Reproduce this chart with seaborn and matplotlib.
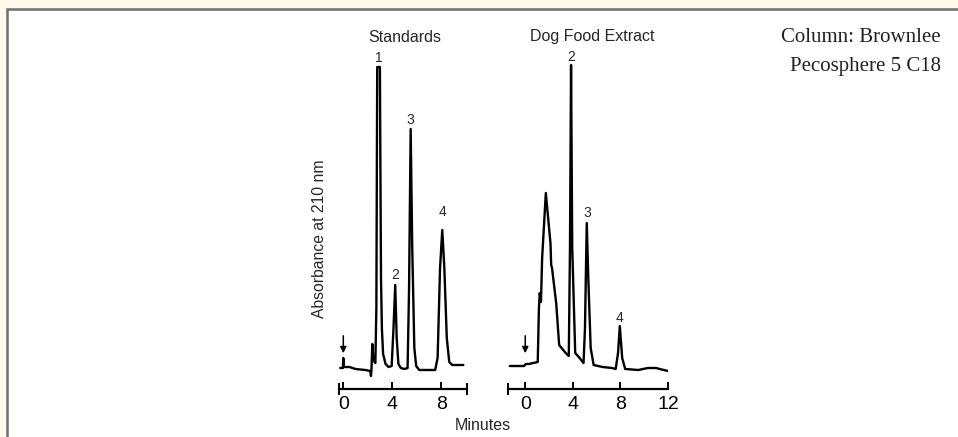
"""Chromatograms: standards vs dog food extract."""

import numpy as np
import pandas as pd
import matplotlib
matplotlib.use("Agg")
import matplotlib.pyplot as plt
from matplotlib.patches import Rectangle
import seaborn as sns

# --- data (minutes, absorbance in arbitrary units) ---
std_time = [-0.25, -0.03, 0.0, 0.04, 0.5, 1.0, 1.8, 2.2, 2.26, 2.3, 2.37, 2.45,
            2.55, 2.62, 2.7, 2.74, 2.77, 2.99, 3.03, 3.08, 3.15, 3.25, 3.45, 3.7,
            3.95, 4.1, 4.24, 4.36, 4.5, 4.7, 5.0, 5.25, 5.37, 5.5, 5.63, 5.8,
            5.95, 6.2, 7.5, 7.7, 7.9, 8.08, 8.25, 8.45, 8.65, 8.9, 9.8]
std_abs = [0, 0, 10, 1, 1, -1, -2, -3, -8, -2, 24, 10,
           6, 5, 60, 200, 301, 301, 200, 90, 40, 14, 4, 1,
           2, 40, 83, 30, 4, 0, -1, 0, 80, 239, 120, 20,
           2, -2, -2, 10, 100, 138, 100, 30, 6, 3, 3]

dog_time = [-1.3, -0.1, 0.05, 0.3, 1.05, 1.15, 1.22, 1.32, 1.42, 1.73, 2.12,
            2.18, 2.25, 2.6, 2.85, 3.4, 3.66, 3.76, 3.85, 3.95, 4.2, 4.5,
            4.9, 5.02, 5.17, 5.3, 5.5, 5.75, 6.5, 7.3, 7.6, 7.8, 7.95, 8.15,
            8.4, 9.5, 10.3, 11.0, 11.3, 12.0]
dog_abs = [2, 2, 4, 4, 6, 60, 75, 66, 110, 175, 125,
           103, 100, 65, 23, 15, 12, 120, 303, 120, 15, 11,
           5, 40, 145, 90, 20, 3, 1, 0, -1, 15, 42, 10,
           -1, -2, 0, 0, -1, -3]

std_ticks = [0, 4, 8]
dog_ticks = [0, 4, 8, 12]

std_peak_labels = ["1", "2", "3", "4"]
std_peak_pos = [(2.88, 310), (4.25, 93), (5.5, 248), (8.08, 156)]
dog_peak_labels = ["2", "3", "4"]
dog_peak_pos = [(3.87, 311), (5.2, 155), (7.95, 50)]

std_df = pd.DataFrame({"Minutes": std_time, "Absorbance": std_abs})
dog_df = pd.DataFrame({"Minutes": dog_time, "Absorbance": dog_abs})

sns.set_style("white")
plt.rcParams["font.family"] = ["Liberation Sans", "DejaVu Sans"]

W, H = 958, 437
fig = plt.figure(figsize=(W / 100, H / 100), dpi=100)
fig.patch.set_facecolor("#fdf8ea")

# white card with grey border (top/left edges visible)
fig.patches.append(Rectangle((7 / W, -0.1), 1.5, (H - 9) / H + 0.1,
                             transform=fig.transFigure, facecolor="white",
                             edgecolor="#6e6e6e", linewidth=1.8, zorder=-5))

ylim = (-21, 338)
ax_b, ax_h = 48 / H, (389 - 30) / H
ax1 = fig.add_axes([339 / W, ax_b, 128 / W, ax_h])
ax2 = fig.add_axes([508 / W, ax_b, 160 / W, ax_h])

panels = [
    (ax1, std_df, (-0.35, 10.1), std_ticks, std_peak_labels, std_peak_pos),
    (ax2, dog_df, (-1.45, 12.0), dog_ticks, dog_peak_labels, dog_peak_pos),
]

for ax, df, xlim, ticks, labels, pos in panels:
    ax.set_zorder(2)
    ax.set_facecolor("none")
    sns.lineplot(data=df, x="Minutes", y="Absorbance", ax=ax, color="black",
                 linewidth=1.7, estimator=None, sort=False)
    ax.set_xlim(*xlim)
    ax.set_ylim(*ylim)
    for s in ["left", "right", "top"]:
        ax.spines[s].set_visible(False)
    ax.spines["bottom"].set_color("black")
    ax.spines["bottom"].set_linewidth(1.6)
    ax.set_yticks([])
    ax.set_xticks(ticks)
    ax.set_xticks(list(xlim), minor=True)
    ax.tick_params(axis="x", which="major", direction="in", length=5, width=1.4,
                   labelsize=14, pad=5, bottom=True, colors="black")
    ax.tick_params(axis="x", which="minor", direction="inout", length=8, width=1.4,
                   bottom=True, colors="black")
    ax.set_xlabel("")
    ax.set_ylabel("")
    for lab, (px, py) in zip(labels, pos):
        ax.text(px, py, lab, ha="center", va="center", fontsize=10)
    # injection arrow
    ax.annotate("", xy=(0, 12), xytext=(0, 35),
                arrowprops=dict(arrowstyle="-|>", color="black", lw=1.1,
                                mutation_scale=9))

fig.text(405 / W, 1 - 37 / H, "Standards", ha="center", va="center", fontsize=11.5)
fig.text(592 / W, 1 - 37 / H, "Dog Food Extract", ha="center", va="center",
         fontsize=11.5)
fig.text(320 / W, 1 - 239 / H, "Absorbance at 210 nm", rotation=90,
         ha="center", va="center", fontsize=11.3)
fig.text(483 / W, 1 - 426 / H, "Minutes", ha="center", va="center", fontsize=11.5)

fig.text(941 / W, 1 - 37 / H, "Column: Brownlee", ha="right", va="center",
         fontsize=15, family=["Liberation Serif", "DejaVu Serif"], color="#222222")
fig.text(941 / W, 1 - 67 / H, "Pecosphere 5 C18", ha="right", va="center",
         fontsize=15, family=["Liberation Serif", "DejaVu Serif"], color="#222222")

fig.savefig("out.png", dpi=100, facecolor=fig.get_facecolor())
